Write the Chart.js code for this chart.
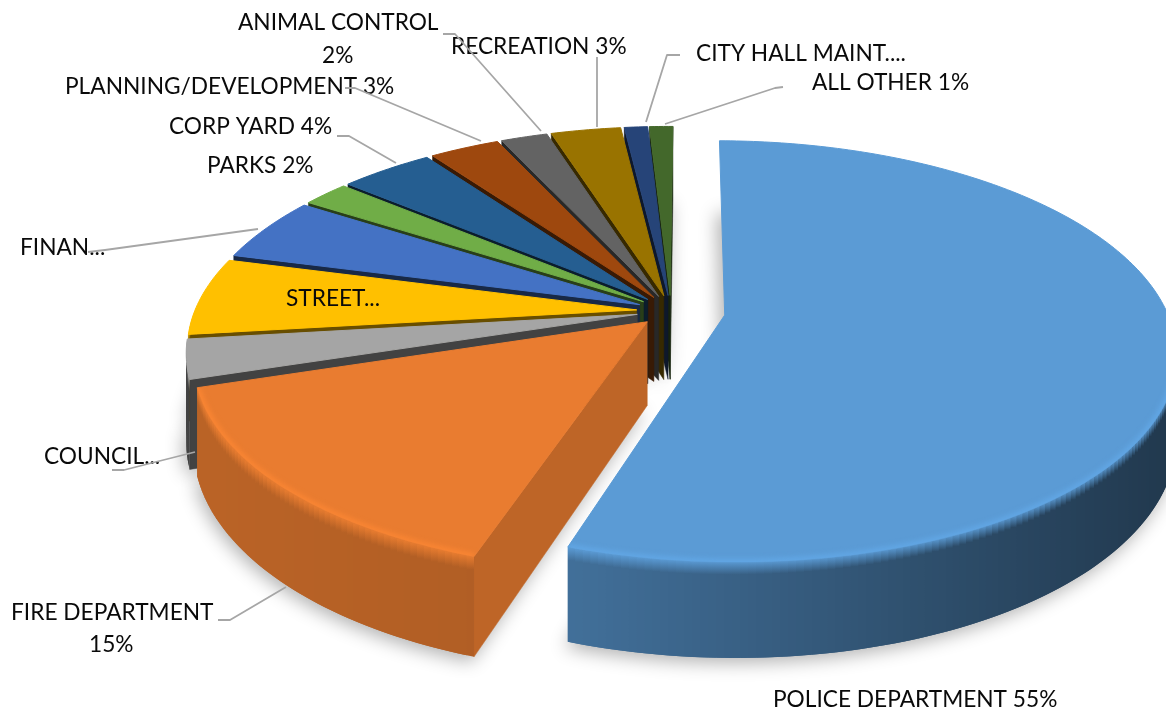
<!DOCTYPE html>
<html>
<head>
<meta charset="utf-8">
<title>Expenditures by department</title>
<script src="https://cdn.jsdelivr.net/npm/chart.js@4/dist/chart.umd.min.js"></script>
<style>
  html, body { margin: 0; padding: 0; background: #fff; }
  #wrap { width: 1166px; height: 709px; overflow: hidden; }
</style>
</head>
<body>
<div id="wrap"><canvas id="pie" width="1166" height="709"></canvas></div>
<script>
const categories = ["POLICE DEPARTMENT", "FIRE DEPARTMENT", "COUNCIL", "STREETS", "FINANCE", "PARKS",
  "CORP YARD", "PLANNING/DEVELOPMENT", "ANIMAL CONTROL", "RECREATION", "CITY HALL MAINT.", "ALL OTHER"];
const values = [55, 15, 3, 6, 5, 2, 4, 3, 2, 3, 1, 1];

const sliceColors = ["#5B9BD5", "#E97C30", "#A5A5A5", "#FFC000", "#4472C4", "#70AD47",
  "#255E91", "#9E480E", "#636363", "#997300", "#264478", "#43682B"];
const sliceOffsets = [41, 25, 26, 26, 26, 26, 26, 26, 26, 26, 26, 26];
const wallDepths = [79, 83, 85, 85, 85, 85, 85, 85, 85, 85, 85, 85];
// wall brightness at the left and right end of each slice
const wallLeft = [0.72, 0.8, 0.39, 0.4, 0.35, 0.35, 0.3, 0.35, 0.4, 0.35, 0.35, 0.35];
const wallRight = [0.36, 0.76, 0.39, 0.4, 0.35, 0.35, 0.3, 0.35, 0.4, 0.35, 0.35, 0.35];

// text, left edge, vertical middle
const labelRows = [
  ["ANIMAL CONTROL", 238, 23], ["2%", 322, 56],
  ["RECREATION 3%", 451, 47],
  ["CITY HALL MAINT....", 696, 54],
  ["ALL OTHER 1%", 812, 83],
  ["PLANNING/DEVELOPMENT 3%", 65, 87],
  ["CORP YARD 4%", 169, 127],
  ["PARKS 2%", 207, 166],
  ["FINAN...", 20, 248],
  ["STREET...", 286, 299],
  ["COUNCIL...", 44, 457],
  ["FIRE DEPARTMENT", 11, 613], ["15%", 89, 645],
  ["POLICE DEPARTMENT 55%", 773, 700]
];
const leaderLines = [
  [[443, 34], [455, 34], [541, 131]],
  [[345, 88], [355, 88], [481, 141]],
  [[337, 136], [349, 136], [396, 163]],
  [[88, 252], [105, 250], [258, 229]],
  [[112, 470], [124, 470], [195, 452]],
  [[218, 620], [230, 620], [286, 587]],
  [[597, 57], [597, 127]],
  [[680, 55], [667, 55], [646, 122]],
  [[783, 87], [775, 88], [665, 124]]
];

// view of the tilted disc
const viewX = 671, viewY = 311, radiusX = 442, radiusY = 203, tilt = 0.172;

function project(u, v, depth) {
  const s = 1 / (1 - tilt * v);
  return [viewX + radiusX * u * s, viewY + radiusY * v * s + depth * s];
}

function shade(hex, f) {
  const n = parseInt(hex.slice(1), 16);
  const c = [n >> 16, (n >> 8) & 255, n & 255].map(x => Math.min(255, Math.round(x * f)));
  return `rgb(${c[0]},${c[1]},${c[2]})`;
}

function tracePoly(ctx, pts) {
  ctx.beginPath();
  pts.forEach((p, i) => i ? ctx.lineTo(p[0], p[1]) : ctx.moveTo(p[0], p[1]));
  ctx.closePath();
}

// Turns an arc element into ground coordinates for the view above
function sliceGeometry(el) {
  const d = el.options.offset / el.outerRadius;
  const mid = (el.startAngle + el.endAngle) / 2;
  const u0 = d * Math.cos(mid), v0 = d * Math.sin(mid);
  const steps = Math.max(2, Math.ceil((el.endAngle - el.startAngle) / 0.015));
  const rim = [];
  for (let i = 0; i <= steps; i++) {
    const a = el.startAngle + (el.endAngle - el.startAngle) * i / steps;
    rim.push({ a, u: u0 + Math.cos(a), v: v0 + Math.sin(a) });
  }
  return { u0, v0, rim, mid, start: el.startAngle, end: el.endAngle };
}

function drawShadow(ctx, g, i) {
  const h = wallDepths[i];
  const pts = [project(g.u0, g.v0, h)].concat(g.rim.map(r => project(r.u, r.v, h)));
  ctx.save();
  ctx.shadowColor = "rgba(0,0,0,0.3)";
  ctx.shadowBlur = 18;
  ctx.shadowOffsetX = 3000 - 3;
  ctx.shadowOffsetY = 5;
  ctx.translate(-3000, 0);
  ctx.fillStyle = "#000";
  tracePoly(ctx, pts);
  ctx.fill();
  ctx.restore();
}

function drawRadialWall(ctx, g, r, h, fill) {
  tracePoly(ctx, [project(g.u0, g.v0, 0), project(r.u, r.v, 0), project(r.u, r.v, h), project(g.u0, g.v0, h)]);
  ctx.fillStyle = fill;
  ctx.fill();
  ctx.strokeStyle = fill;
  ctx.lineWidth = 0.5;
  ctx.stroke();
}

function drawSlice(ctx, g, i) {
  const base = sliceColors[i];
  const h = wallDepths[i];
  const xs = g.rim.map(r => project(r.u, r.v, 0)[0]);
  const minX = Math.min(...xs), maxX = Math.max(...xs);
  const wallAt = x => wallLeft[i] + (wallRight[i] - wallLeft[i]) * (x - minX) / Math.max(1, maxX - minX);

  // straight cut faces that look toward the viewer
  if (-Math.cos(g.start) > 0) drawRadialWall(ctx, g, g.rim[0], h, shade(base, wallAt(minX) * 1.02));
  if (Math.cos(g.end) > 0) drawRadialWall(ctx, g, g.rim[g.rim.length - 1], h, shade(base, wallAt(maxX)));

  // curved outer wall, strips overlap so no seams show
  for (let k = 0; k < g.rim.length - 1; k++) {
    const a = g.rim[k], b = g.rim[Math.min(k + 2, g.rim.length - 1)];
    if (Math.sin(g.rim[k].a + 0.007) <= 0) continue;
    const p0 = project(a.u, a.v, 0), p1 = project(b.u, b.v, 0);
    const q0 = project(a.u, a.v, h), q1 = project(b.u, b.v, h);
    const wall = shade(base, wallAt((p0[0] + p1[0]) / 2));
    const grad = ctx.createLinearGradient(0, p0[1], 0, q0[1]);
    grad.addColorStop(0, shade(base, 0.98));
    grad.addColorStop(0.13, wall);
    grad.addColorStop(1, wall);
    tracePoly(ctx, [p0, p1, q1, q0]);
    ctx.fillStyle = grad;
    ctx.fill();
  }

  // top face
  const top = [project(g.u0, g.v0, 0)].concat(g.rim.map(r => project(r.u, r.v, 0)));
  tracePoly(ctx, top);
  ctx.fillStyle = base;
  ctx.strokeStyle = base;
  ctx.lineJoin = "round";
  ctx.lineWidth = 1;
  ctx.fill();
  ctx.stroke();

  // soft lighter rim along the front edge of the large slices
  if (values[i] >= 15) {
    ctx.save();
    tracePoly(ctx, top);
    ctx.clip();
    ctx.filter = "blur(2.5px)";
    ctx.beginPath();
    let open = false;
    g.rim.forEach(r => {
      if (Math.sin(r.a) < 0.12) return;
      const p = project(r.u, r.v, 0);
      open ? ctx.lineTo(p[0], p[1]) : ctx.moveTo(p[0], p[1]);
      open = true;
    });
    ctx.strokeStyle = shade(base, 1.07);
    ctx.lineWidth = 7;
    ctx.stroke();
    ctx.restore();
  }
}

const discPlugin = {
  id: "tiltedDisc",
  beforeDatasetsDraw(chart) {
    const ctx = chart.ctx;
    const items = chart.getDatasetMeta(0).data.map((el, i) => ({ g: sliceGeometry(el), i }));
    items.sort((a, b) => Math.sin(a.g.mid) - Math.sin(b.g.mid));
    items.forEach(it => drawShadow(ctx, it.g, it.i));
    items.forEach(it => drawSlice(ctx, it.g, it.i));
    return false;
  },
  afterDraw(chart) {
    const ctx = chart.ctx;
    ctx.save();
    ctx.font = "22.7px Lato";
    ctx.fillStyle = "#0a0a0a";
    ctx.textAlign = "left";
    ctx.textBaseline = "middle";
    labelRows.forEach(r => ctx.fillText(r[0], r[1], r[2]));
    ctx.strokeStyle = "#a6a6a6";
    ctx.lineWidth = 1.8;
    leaderLines.forEach(line => {
      ctx.beginPath();
      line.forEach((p, i) => i ? ctx.lineTo(p[0], p[1]) : ctx.moveTo(p[0], p[1]));
      ctx.stroke();
    });
    ctx.restore();
  }
};

new Chart(document.getElementById("pie").getContext("2d"), {
  type: "pie",
  data: {
    labels: categories,
    datasets: [{
      data: values,
      backgroundColor: sliceColors,
      offset: sliceOffsets,
      borderWidth: 0
    }]
  },
  options: {
    responsive: false,
    animation: false,
    events: [],
    rotation: 0.4,
    layout: { padding: 0 },
    plugins: { legend: { display: false }, tooltip: { enabled: false } }
  },
  plugins: [discPlugin]
});
</script>
</body>
</html>
